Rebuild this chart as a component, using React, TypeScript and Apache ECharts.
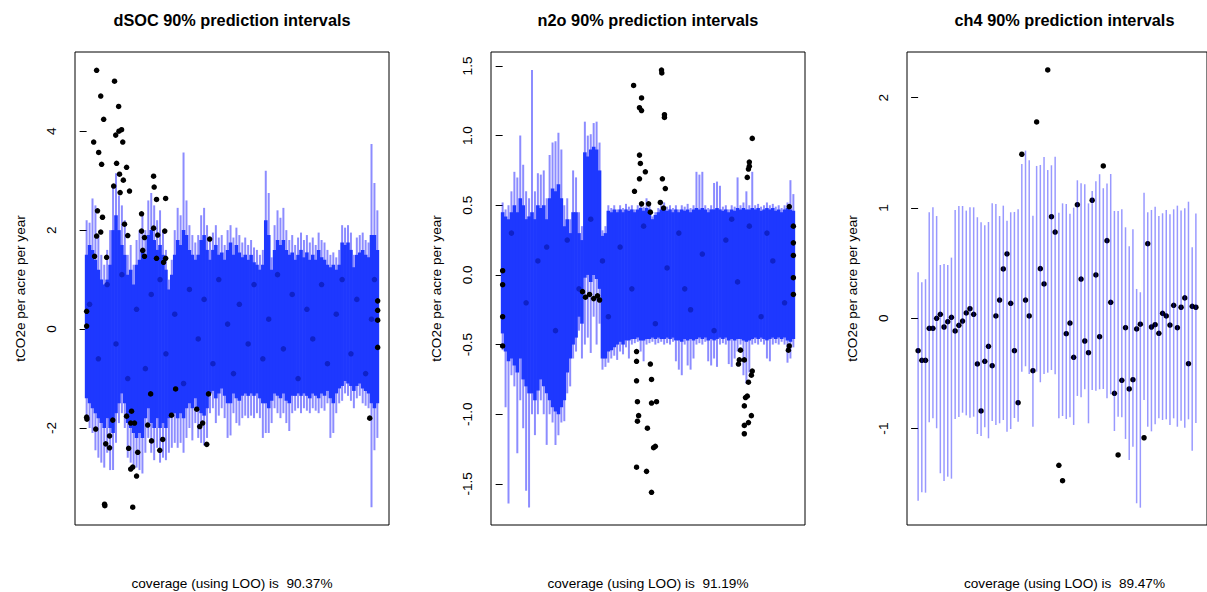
import React, { useEffect, useRef } from "react";
import * as echarts from "echarts";

// ---------- texts ----------
const titles = ["dSOC 90% prediction intervals", "n2o 90% prediction intervals", "ch4 90% prediction intervals"];
const coverages = ["coverage (using LOO) is  90.37%", "coverage (using LOO) is  91.19%", "coverage (using LOO) is  89.47%"];
const yName = "tCO2e per acre per year";

// ---------- tick labels ----------
const dsocTicks = [-2, 0, 2, 4];
const n2oTicks = [-1.5, -1.0, -0.5, 0.0, 0.5, 1.0, 1.5];
const ch4Ticks = [-1, 0, 1, 2];

// ---------- dSOC (observation index 0..99) ----------
const dsocHi = [2.2, 2.15, 2.64, 2.5, 1.9, 1.5, 1.3, 1.6, 2.0, 2.9,
  3.15, 2.7, 2.5, 2.2, 1.5, 1.7, 1.3, 1.8, 2.0, 2.3,
  2.0, 2.6, 2.75, 2.5, 2.2, 2.4, 2.0, 1.6, 1.0, 1.4,
  2.0, 2.45, 2.3, 3.57, 2.6, 2.1, 1.9, 1.75, 1.9, 2.3,
  2.45, 2.1, 1.8, 1.95, 2.1, 1.85, 1.9, 1.7, 2.0, 2.1,
  1.85, 2.05, 1.9, 1.75, 1.85, 1.7, 1.8, 1.65, 1.6, 1.5,
  1.6, 3.2, 2.75, 1.45, 2.1, 2.4, 2.25, 2.45, 2.0, 1.8,
  1.9, 1.7, 1.85, 1.95, 1.8, 1.9, 1.75, 1.85, 1.7, 1.95,
  1.8, 1.75, 1.6, 1.5, 1.55, 1.45, 1.6, 2.1, 2.05, 2.1,
  1.95, 1.5, 1.85, 1.9, 1.95, 1.8, 1.75, 3.74, 2.95, 2.4];
const dsocCoreHi = [1.5, 1.7, 1.6, 1.4, 1.2, 1.0, 0.9, 1.0, 1.3, 2.0,
  2.3, 2.0, 1.7, 1.5, 1.1, 1.2, 0.9, 1.3, 1.4, 1.6,
  1.5, 1.9, 2.0, 1.8, 1.6, 1.7, 1.5, 1.2, 0.8, 1.1,
  1.5, 1.8, 1.7, 2.0, 1.9, 1.6, 1.5, 1.4, 1.5, 1.8,
  1.9, 1.6, 1.4, 1.6, 1.7, 1.5, 1.55, 1.4, 1.6, 1.75,
  1.5, 1.7, 1.55, 1.45, 1.5, 1.4, 1.5, 1.35, 1.3, 1.2,
  1.3, 2.2, 1.9, 1.2, 1.6, 1.8, 1.7, 1.8, 1.6, 1.5,
  1.55, 1.4, 1.5, 1.6, 1.45, 1.55, 1.4, 1.5, 1.4, 1.6,
  1.45, 1.4, 1.3, 1.25, 1.3, 1.2, 1.3, 1.75, 1.7, 1.75,
  1.6, 1.25, 1.5, 1.55, 1.6, 1.5, 1.45, 1.9, 1.9, 1.6];
const dsocCoreLo = [-1.4, -1.5, -1.6, -1.7, -1.8, -1.9, -2.0, -1.8, -2.0, -2.1,
  -1.7, -1.5, -1.3, -1.5, -1.9, -2.0, -2.1, -2.2, -2.1, -2.2,
  -1.8, -1.6, -1.9, -2.0, -1.8, -2.0, -1.9, -2.0, -1.8, -1.7,
  -1.7, -1.8, -1.7, -1.8, -1.6, -1.5, -1.6, -1.4, -1.6, -1.7,
  -1.75, -1.6, -1.3, -1.25, -1.4, -1.3, -1.2, -1.35, -1.5, -1.5,
  -1.3, -1.4, -1.45, -1.35, -1.3, -1.35, -1.3, -1.35, -1.3, -1.4,
  -1.5, -1.5, -1.6, -1.45, -1.3, -1.35, -1.4, -1.3, -1.45, -1.5,
  -1.35, -1.35, -1.3, -1.35, -1.3, -1.35, -1.4, -1.3, -1.35, -1.4,
  -1.3, -1.35, -1.25, -1.4, -1.5, -1.3, -1.2, -1.15, -1.05, -1.1,
  -1.15, -1.25, -1.15, -1.1, -1.2, -1.25, -1.3, -1.5, -1.6, -1.5];
const dsocLo = [-1.8, -2.0, -2.1, -2.45, -2.6, -2.7, -2.8, -2.5, -2.85, -2.85,
  -2.3, -1.9, -1.7, -2.0, -2.6, -2.7, -2.75, -2.8, -2.85, -2.92,
  -2.5, -2.2, -2.5, -2.65, -2.4, -2.7, -2.6, -2.65, -2.5, -2.4,
  -2.3, -2.4, -2.3, -2.5, -2.2, -2.0, -2.25, -1.9, -2.2, -2.3,
  -2.35, -2.2, -1.7, -1.6, -1.9, -1.75, -1.6, -1.8, -2.2, -2.15,
  -1.7, -1.9, -1.95, -1.8, -1.75, -1.8, -1.75, -1.8, -1.7, -1.8,
  -2.2, -2.1, -2.1, -1.9, -1.6, -1.7, -1.8, -1.7, -1.9, -2.06,
  -1.7, -1.65, -1.6, -1.7, -1.6, -1.65, -1.7, -1.6, -1.65, -1.7,
  -1.6, -1.65, -1.5, -2.2, -2.1, -1.7, -1.5, -1.45, -1.3, -1.35,
  -1.45, -1.6, -1.4, -1.35, -1.5, -1.55, -1.6, -3.6, -2.45, -2.2];
const dsocOutside = [[3.4, 5.23], [9.5, 5.01], [4.8, 4.71], [10.9, 4.5], [5.8, 4.24], [2.4, 3.78], [9.9, 3.92], [11.0, 4.0], [11.9, 4.03], [12.3, 3.78],
  [4.1, 3.57], [5.1, 3.33], [10.2, 3.35], [13.6, 3.27], [11.2, 3.13], [22.8, 3.09], [12.5, 3.01], [23.0, 2.87], [9.2, 2.89], [11.4, 2.76],
  [14.6, 2.79], [23.8, 2.62], [26.9, 2.64], [3.7, 2.39], [18.7, 2.33], [5.4, 2.26], [4.8, 1.96], [18.7, 1.98], [22.8, 2.04], [3.4, 1.88],
  [19.7, 1.85], [24.2, 1.9], [26.6, 1.98], [12.9, 2.12], [14.0, 1.89], [19.1, 1.59], [2.7, 1.47], [19.7, 1.47], [6.8, 1.45], [41.9, 1.82],
  [26.9, 1.43], [23.8, 1.43], [26.2, 1.35],
  [0, -1.78], [0.1, -1.82], [3.1, -2.02], [6.5, -2.32], [7.8, -2.16], [7.8, -2.4], [14.3, -2.41], [15.0, -2.83], [15.7, -2.79], [17.0, -2.97],
  [17.4, -2.49], [22.1, -2.26], [24.9, -2.45], [25.9, -2.23], [40.9, -2.33], [6.1, -3.54], [6.2, -3.57], [15.7, -3.6], [13.6, -1.76], [15.3, -1.66],
  [15.0, -1.9], [16.3, -1.9], [8.9, -1.84], [96.4, -1.8], [20.8, -1.94], [28.9, -1.74], [39.5, -1.9], [38.5, -1.97], [37.5, -1.62], [21.8, -1.31],
  [30.3, -1.21], [41.5, -1.31], [99.1, 0.57], [99.1, 0.38], [99.1, 0.18], [99.1, -0.37], [0, 0.06], [0, 0.36]];
const dsocInside = [[1, 0.5], [4, -0.6], [7, 0.9], [10, -0.3], [12, 1.1], [14, -1.0], [17, 0.4], [20, -0.8], [22, 0.7], [25, 1.0],
  [27, -0.5], [30, 0.3], [33, -1.1], [35, 0.8], [38, -0.2], [40, 0.6], [43, -0.7], [45, 1.0], [48, 0.1], [50, -0.9],
  [52, 0.5], [55, -0.3], [57, 0.9], [60, -0.6], [62, 0.2], [65, 1.1], [67, -0.4], [70, 0.7], [72, -1.0], [75, 0.4],
  [77, -0.2], [80, 0.9], [82, -0.7], [85, 0.3], [87, 1.0], [90, -0.5], [92, 0.6], [95, -0.9], [97, 0.2], [98, 1.0]];

// ---------- n2o (observation index 0..99) ----------
const n2oHi = [0.52, 0.47, 0.5, 0.6, 0.74, 0.7, 1.0, 0.79, 0.6, 0.55,
  1.47, 0.6, 0.73, 0.72, 0.75, 0.55, 0.86, 0.95, 0.96, 1.02,
  0.9, 0.5, 0.55, 0.4, 0.75, 0.7, 0.45, 0.35, 1.1, 1.0,
  1.01, 1.09, 1.1, 0.95, 0.32, 0.35, 0.5, 0.48, 0.5, 0.47,
  0.5, 0.48, 0.51, 0.49, 0.5, 0.47, 0.5, 0.52, 0.49, 0.55,
  0.5, 0.42, 0.45, 0.48, 0.5, 0.52, 0.49, 0.5, 0.48, 0.5,
  0.47, 0.5, 0.49, 0.51, 0.48, 0.5, 0.74, 0.72, 0.74, 0.5,
  0.48, 0.5, 0.66, 0.67, 0.64, 0.49, 0.5, 0.47, 0.5, 0.49,
  0.7, 0.5, 0.52, 0.6, 0.5, 0.74, 0.5, 0.51, 0.49, 0.5,
  0.52, 0.5, 0.51, 0.49, 0.5, 0.48, 0.5, 0.52, 0.68, 0.58];
const n2oCoreHi = [0.45, 0.42, 0.4, 0.45, 0.5, 0.45, 0.55, 0.5, 0.4, 0.42,
  0.45, 0.4, 0.5, 0.48, 0.5, 0.4, 0.55, 0.62, 0.6, 0.65,
  0.55, 0.35, 0.4, 0.3, 0.45, 0.45, 0.3, 0.25, 0.88, 0.85,
  0.9, 0.92, 0.9, 0.75, 0.28, 0.3, 0.46, 0.45, 0.47, 0.45,
  0.47, 0.45, 0.47, 0.46, 0.47, 0.45, 0.47, 0.48, 0.46, 0.48,
  0.47, 0.4, 0.43, 0.45, 0.47, 0.48, 0.46, 0.47, 0.45, 0.47,
  0.45, 0.47, 0.46, 0.47, 0.45, 0.47, 0.48, 0.47, 0.48, 0.47,
  0.45, 0.47, 0.47, 0.48, 0.47, 0.46, 0.47, 0.45, 0.47, 0.46,
  0.48, 0.47, 0.48, 0.47, 0.47, 0.48, 0.47, 0.48, 0.46, 0.47,
  0.48, 0.47, 0.48, 0.46, 0.47, 0.45, 0.47, 0.48, 0.47, 0.46];
const n2oCoreLo = [-0.42, -0.55, -0.62, -0.6, -0.65, -0.7, -0.6, -0.75, -0.8, -0.85,
  -0.85, -0.9, -0.83, -0.75, -0.8, -0.85, -0.9, -0.95, -0.98, -1.0,
  -0.95, -0.9, -0.7, -0.6, -0.5, -0.45, -0.3, -0.35, -0.02, 0.0,
  -0.05, 0.0, -0.03, -0.1, -0.6, -0.6, -0.55, -0.54, -0.52, -0.5,
  -0.48, -0.5, -0.47, -0.47, -0.46, -0.46, -0.45, -0.47, -0.47, -0.46,
  -0.46, -0.45, -0.46, -0.45, -0.46, -0.46, -0.45, -0.46, -0.45, -0.47,
  -0.47, -0.48, -0.46, -0.47, -0.46, -0.47, -0.46, -0.45, -0.46, -0.45,
  -0.47, -0.46, -0.47, -0.46, -0.45, -0.46, -0.45, -0.47, -0.46, -0.47,
  -0.46, -0.46, -0.47, -0.48, -0.47, -0.46, -0.45, -0.46, -0.45, -0.46,
  -0.47, -0.46, -0.45, -0.46, -0.45, -0.46, -0.45, -0.47, -0.48, -0.46];
const n2oLo = [-0.54, -0.95, -1.64, -0.72, -0.8, -1.28, -0.9, -1.1, -1.55, -1.67,
  -1.0, -1.15, -1.0, -0.9, -1.0, -1.22, -1.0, -1.06, -1.22, -1.15,
  -1.06, -1.05, -0.85, -0.8, -0.6, -0.55, -0.4, -0.6, -0.5, -0.45,
  -0.56, -0.3, -0.5, -0.35, -0.68, -0.66, -0.63, -0.6, -0.58, -0.61,
  -0.55, -0.57, -0.52, -0.6, -0.5, -0.49, -0.48, -0.55, -0.62, -0.5,
  -0.49, -0.48, -0.5, -0.49, -0.48, -0.5, -0.49, -0.5, -0.48, -0.62,
  -0.68, -0.72, -0.5, -0.65, -0.68, -0.6, -0.5, -0.49, -0.5, -0.48,
  -0.62, -0.65, -0.6, -0.66, -0.5, -0.49, -0.5, -0.64, -0.66, -0.6,
  -0.55, -0.5, -0.72, -0.78, -0.7, -0.5, -0.49, -0.5, -0.48, -0.5,
  -0.6, -0.62, -0.5, -0.49, -0.5, -0.48, -0.5, -0.63, -0.6, -0.52];
const n2oOutside = [[44.6, 1.36], [47.3, 1.27], [46.6, 1.2], [47.3, 1.18], [54.1, 1.47], [54.2, 1.45], [55.1, 1.15], [55.1, 1.13], [46.6, 0.86], [46.9, 0.8],
  [48.6, 0.74], [46.6, 0.69], [44.9, 0.6], [54.4, 0.69], [55.4, 0.62], [47.3, 0.51], [49.7, 0.51], [53.7, 0.52], [54.8, 0.48], [50.3, 0.45],
  [85.0, 0.98], [84.0, 0.81], [84.0, 0.78], [83.7, 0.76], [83.3, 0.7], [97.6, 0.49], [99, 0.35], [99, 0.23], [99, 0.14], [99, -0.02],
  [99, -0.14], [0, 0.03], [0, -0.07], [0, -0.3], [0, -0.51],
  [45.6, -0.55], [45.6, -0.62], [45.6, -0.76], [45.9, -0.91], [46.3, -1.01], [45.9, -1.05], [45.6, -1.38], [49.0, -1.41], [50.7, -1.56], [49.3, -1.1],
  [51.4, -1.24], [52.0, -1.23], [50.7, -0.92], [52.4, -0.91], [50.7, -0.75], [50.3, -0.64], [80.3, -0.64], [80.6, -0.61], [81.0, -0.54], [82.3, -0.94],
  [82.7, -0.88], [83.3, -0.87], [83.7, -0.77], [84.7, -0.72], [85.0, -0.69], [84.7, -1.01], [83.7, -1.06], [82.3, -1.08], [82.3, -1.14], [82.3, -0.61],
  [97.3, -0.54], [97.6, -0.51], [27.2, -0.12], [28.2, -0.16], [29.6, -0.14], [31.0, -0.17], [32.3, -0.15], [33.0, -0.18]];
const n2oInside = [[3, 0.3], [8, -0.2], [12, 0.1], [18, -0.4], [22, 0.25], [26, -0.1], [30, 0.4], [36, -0.3], [40, 0.2], [44, -0.1],
  [48, 0.35], [52, -0.35], [56, 0.05], [60, 0.3], [64, -0.25], [68, 0.15], [72, -0.4], [76, 0.25], [80, -0.05], [84, 0.35],
  [88, -0.3], [92, 0.1], [96, -0.2], [15, 0.2], [34, 0.1], [62, -0.1], [78, 0.4], [90, 0.3]];

// ---------- ch4 (observation index 0..75) ----------
const ch4Hi = [0.417, 0.326, 0.354, 0.961, 1.006, 0.927, 0.483, 0.492, 0.483, 0.55,
  0.982, 1.018, 1.018, 0.976, 1.006, 1.006, 0.916, 0.87, 0.843, 0.873,
  1.042, 1.036, 0.927, 1.021, 0.885, 0.961, 0.964, 0.988, 1.399, 1.52,
  1.432, 0.93, 1.381, 1.39, 1.462, 1.344, 1.387, 1.465, 0.957, 1.042,
  1.036, 0.948, 1.003, 1.251, 1.224, 1.215, 1.042, 1.154, 1.242, 1.306,
  1.179, 1.221, 1.308, 0.973, 0.973, 0.988, 0.825, 0.653, 0.807, 0.266,
  0.236, 1.139, 0.961, 0.982, 1.012, 0.927, 0.952, 0.982, 0.943, 0.988,
  1.021, 0.976, 0.997, 1.057, 0.644, 0.95];
const ch4Lo = [-1.654, -1.578, -1.581, -0.943, -0.907, -0.997, -1.405, -1.475, -1.436, -1.454,
  -0.913, -0.895, -0.856, -0.88, -0.901, -0.892, -1.049, -1.067, -0.988, -1.088,
  -0.931, -0.967, -0.952, -0.922, -1.028, -1.004, -0.904, -0.937, -0.484, -0.435,
  -0.505, -0.983, -0.484, -0.58, -0.505, -0.493, -0.469, -0.508, -0.907, -0.886,
  -0.913, -0.898, -0.967, -0.704, -0.716, -0.644, -0.952, -0.65, -0.656, -0.644,
  -0.641, -0.725, -0.689, -1.022, -0.892, -0.898, -1.094, -1.285, -1.164, -1.677,
  -1.717, -0.741, -0.983, -1.025, -0.961, -0.907, -0.922, -0.916, -0.967, -0.907,
  -0.983, -0.928, -0.992, -0.916, -1.2, -0.95];
const ch4Obs = [-0.294, -0.381, -0.381, -0.091, -0.091, 0.0, 0.036, -0.079, -0.031, 0.009,
  -0.115, -0.064, -0.025, 0.048, 0.087, 0.036, -0.414, -0.84, -0.39, -0.254,
  -0.43, 0.021, 0.165, 0.447, 0.583, 0.136, -0.294, -0.765, 1.487, 0.165,
  0.021, -0.475, 1.78, 0.45, 0.311, 2.251, 0.921, 0.782, -1.333, -1.472,
  -0.14, -0.043, -0.354, 1.03, 0.356, -0.206, -0.312, 1.07, 0.393, -0.167,
  1.381, 0.704, 0.145, -0.68, -1.239, -0.562, -0.085, -0.641, -0.557, -0.097,
  -0.054, -1.083, 0.676, -0.079, -0.058, -0.136, 0.045, 0.021, -0.061, 0.118,
  -0.085, 0.1, 0.185, -0.412, 0.109, 0.1];

// ---------- helpers ----------
const FONT = '"Liberation Sans", Arial, Helvetica, sans-serif';
const SPIKE = "rgba(0,0,255,0.45)";
const CORE = "rgb(30,56,255)";

function intervals(lo: number[], hi: number[]) {
  return hi.map((h, i) => [i, lo[i], h]);
}

function intervalSeries(idx: number, data: number[][], color: string, width: number, z: number) {
  return {
    type: "custom",
    xAxisIndex: idx,
    yAxisIndex: idx,
    data,
    z,
    silent: true,
    clip: true,
    encode: { x: 0, y: [1, 2] },
    renderItem: (_p: any, api: any) => {
      const a = api.coord([api.value(0), api.value(1)]);
      const b = api.coord([api.value(0), api.value(2)]);
      return {
        type: "line",
        shape: { x1: a[0], y1: a[1], x2: b[0], y2: b[1] },
        style: { stroke: color, lineWidth: width },
      };
    },
  };
}

function pointSeries(idx: number, data: number[][], color: string, z: number) {
  return {
    type: "scatter",
    xAxisIndex: idx,
    yAxisIndex: idx,
    data,
    z,
    silent: true,
    symbolSize: 5.5,
    itemStyle: { color, opacity: 1 },
  };
}

function yAxis(idx: number, min: number, max: number, ticks: number[], digits: number) {
  return {
    type: "value",
    gridIndex: idx,
    min,
    max,
    name: yName,
    nameLocation: "middle",
    nameRotate: 90,
    nameGap: 48,
    nameTextStyle: { fontSize: 13.6, color: "#000", fontFamily: FONT },
    axisLine: { show: false },
    splitLine: { show: false },
    axisTick: { show: true, length: 7, lineStyle: { color: "#000", width: 1 }, customValues: ticks },
    axisLabel: {
      show: true,
      customValues: ticks,
      rotate: 90,
      margin: 17,
      fontSize: 13.6,
      color: "#000",
      fontFamily: FONT,
      formatter: (v: number) => v.toFixed(digits),
    },
  };
}

function xAxis(idx: number, n: number) {
  const pad = 0.04 * (n - 1);
  return { type: "value", gridIndex: idx, min: -pad, max: n - 1 + pad, show: false };
}

const panelLeft = [75, 491, 907];
const panelWidth = [314, 314, 315];

export default function App() {
  const ref = useRef<HTMLDivElement>(null);
  useEffect(() => {
    if (!ref.current) return;
    const chart = echarts.init(ref.current, undefined, { renderer: "svg" });
    const grids = panelLeft.map((l, i) => ({
      left: l,
      top: 52,
      width: panelWidth[i],
      height: 473,
      show: true,
      borderColor: "#000",
      borderWidth: 1,
      backgroundColor: "transparent",
      containLabel: false,
    }));
    const graphics: any[] = [];
    panelLeft.forEach((l, i) => {
      const cx = l + panelWidth[i] / 2;
      graphics.push({
        type: "text",
        x: cx,
        y: 20,
        style: { text: titles[i], fill: "#000", font: `bold 16.3px ${FONT}`, align: "center", verticalAlign: "middle", textAlign: "center", textVerticalAlign: "middle" },
      });
      graphics.push({
        type: "text",
        x: cx,
        y: 583,
        style: { text: coverages[i], fill: "#000", font: `13.6px ${FONT}`, align: "center", verticalAlign: "middle", textAlign: "center", textVerticalAlign: "middle" },
      });
    });
    chart.setOption({
      animation: false,
      backgroundColor: "#fff",
      grid: grids,
      xAxis: [xAxis(0, dsocHi.length), xAxis(1, n2oHi.length), xAxis(2, ch4Hi.length)],
      yAxis: [
        yAxis(0, -3.96, 5.6, dsocTicks, 0),
        yAxis(1, -1.795, 1.6, n2oTicks, 1),
        yAxis(2, -1.874, 2.414, ch4Ticks, 0),
      ],
      graphic: graphics,
      series: [
        intervalSeries(0, intervals(dsocLo, dsocHi), SPIKE, 2.0, 2),
        intervalSeries(0, intervals(dsocCoreLo, dsocCoreHi), CORE, 3.6, 3),
        pointSeries(0, dsocInside, "#0f22c8", 4),
        pointSeries(0, dsocOutside, "#000", 5),
        intervalSeries(1, intervals(n2oLo, n2oHi), SPIKE, 2.0, 2),
        intervalSeries(1, intervals(n2oCoreLo, n2oCoreHi), CORE, 3.6, 3),
        pointSeries(1, n2oInside, "#0f22c8", 4),
        pointSeries(1, n2oOutside, "#000", 5),
        pointSeries(2, ch4Obs.map((v, i) => [i, v]), "#000", 2),
        intervalSeries(2, intervals(ch4Lo, ch4Hi), "rgba(0,0,255,0.4)", 1.5, 3),
      ],
    });
    return () => chart.dispose();
  }, []);
  return <div ref={ref} style={{ position: "absolute", left: 0, top: 0, width: 1207, height: 592 }} />;
}
